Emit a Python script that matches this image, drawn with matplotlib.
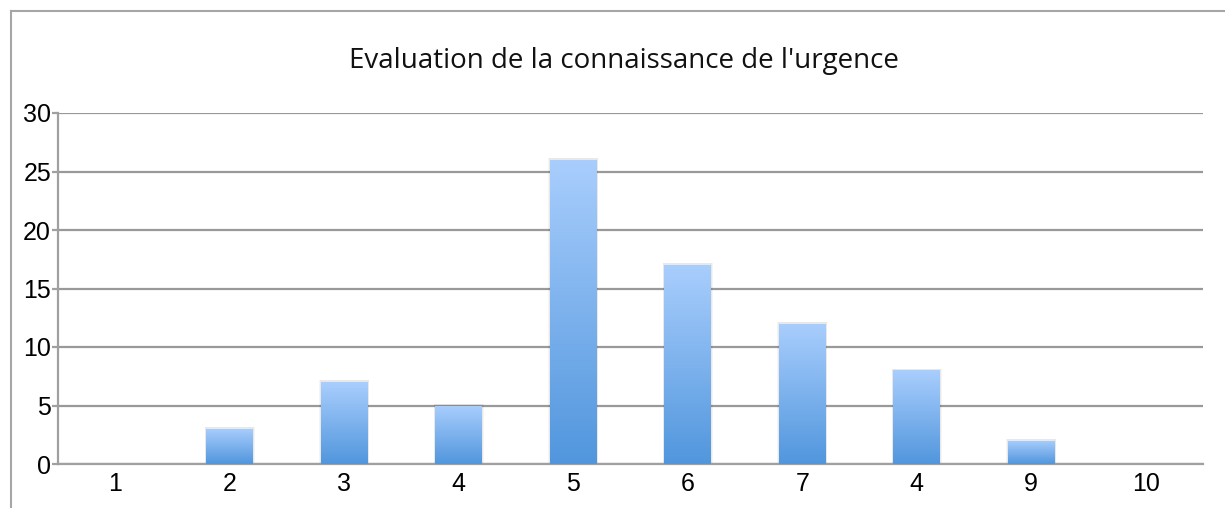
import numpy as np
import matplotlib
matplotlib.use("Agg")
import matplotlib.pyplot as plt
from matplotlib.lines import Line2D
from matplotlib.colors import LinearSegmentedColormap

# ---------- data ----------
categories = ["1", "2", "3", "4", "5", "6", "7", "4", "9", "10"]
counts = [0, 3, 7, 5, 26, 17, 12, 8, 2, 0]
title = "Evaluation de la connaissance de l'urgence"
yticks = [0, 5, 10, 15, 20, 25, 30]

W, H = 1225, 508
fig = plt.figure(figsize=(W / 100, H / 100), dpi=100)
ax = fig.add_axes([58 / W, 1 - 464 / H, (1203 - 58) / W, (464 - 113) / H])

# outer frame (only left and top visible in the crop)
fig.add_artist(Line2D([10.5 / W, 10.5 / W], [0, 1 - 10.5 / H], transform=fig.transFigure,
                      color="#a6a6a6", lw=1.5))
fig.add_artist(Line2D([10.5 / W, 1], [1 - 10.5 / H, 1 - 10.5 / H], transform=fig.transFigure,
                      color="#a6a6a6", lw=1.5))

x = np.arange(len(categories))
bars = ax.bar(x, counts, width=0.41, color="none", edgecolor="none", zorder=3)

grad = LinearSegmentedColormap.from_list("g", ["#5196dd", "#a9cefd"])
img = np.linspace(0, 1, 256).reshape(-1, 1)
for b in bars:
    h = b.get_height()
    if h <= 0:
        continue
    x0, w = b.get_x(), b.get_width()
    # soft shadow around the bar
    for k, a in [(0.03, 0.04), (0.015, 0.05)]:
        ax.bar(x0 + w / 2, h + 0.15, width=w + k, color="#000000", alpha=a,
               zorder=2, edgecolor="none")
    im = ax.imshow(img, cmap=grad, origin="lower", aspect="auto",
                   extent=(x0, x0 + w, 0, h), zorder=3)
    im.set_clip_path(b)

ax.set_xlim(-0.5, len(categories) - 0.5)
ax.set_ylim(0, 30)
ax.set_yticks(yticks)
ax.set_xticks(x)
ax.set_xticklabels(categories)
ax.yaxis.grid(True, color="#999999", lw=1.6, zorder=1)
ax.set_axisbelow(True)

for s in ["top", "right"]:
    ax.spines[s].set_visible(False)
ax.spines["left"].set_color("#a0a0a0")
ax.spines["bottom"].set_color("#a0a0a0")
ax.spines["left"].set_linewidth(1.6)
ax.spines["bottom"].set_linewidth(1.6)
ax.tick_params(axis="x", length=0, pad=6, labelsize=18)
ax.tick_params(axis="y", length=4, color="#a0a0a0", width=1.6, pad=1, labelsize=18)
for lab in ax.get_xticklabels() + ax.get_yticklabels():
    lab.set_fontfamily("Liberation Sans")

fig.text(624 / W, 1 - 61 / H, title, ha="center", va="center",
         fontsize=20, family="Open Sans", color="#111111")

fig.savefig("out.png", dpi=100)
